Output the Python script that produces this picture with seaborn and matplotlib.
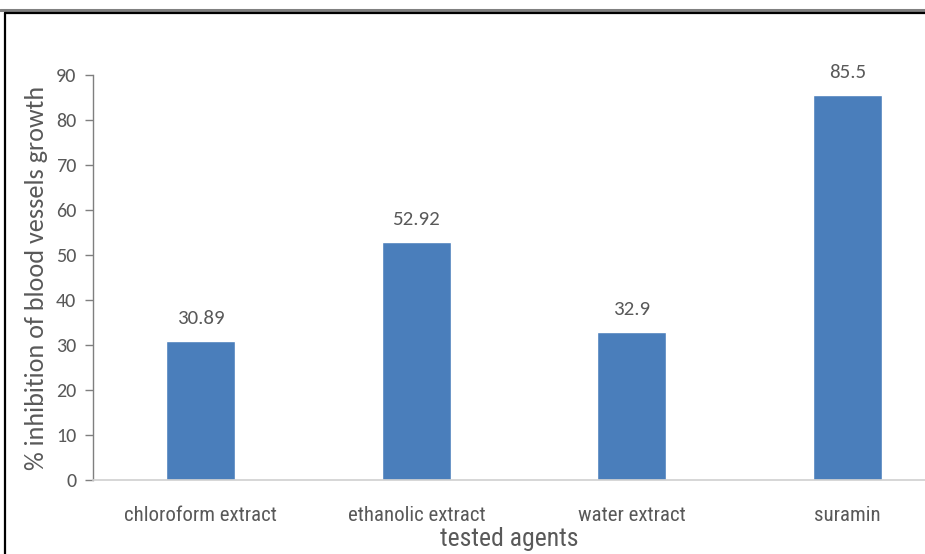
import matplotlib
matplotlib.use("Agg")
import matplotlib.pyplot as plt
from matplotlib.lines import Line2D
import seaborn as sns
import pandas as pd

agents = ["chloroform extract", "ethanolic extract", "water extract", "suramin"]
inhibition = [30.89, 52.92, 32.9, 85.5]
value_labels = ["30.89", "52.92", "32.9", "85.5"]
y_ticks = [0, 10, 20, 30, 40, 50, 60, 70, 80, 90]

df = pd.DataFrame({"agent": agents, "inhibition": inhibition})

sns.set_style("white")
plt.rcParams["font.family"] = ["Carlito", "DejaVu Sans"]
NARROW = ["Roboto Condensed", "Carlito", "DejaVu Sans"]

GREY = "#595959"
BLUE = "#4A7EBB"

fig = plt.figure(figsize=(9.25, 5.54), dpi=100)
W, H = 925, 554
ax = fig.add_axes([93 / W, 1 - 480 / H, (925 - 93) / W, (480 - 75) / H])

sns.barplot(data=df, x="agent", y="inhibition", color=BLUE, width=0.32,
            saturation=1, ax=ax)

ax.set_ylim(0, 90)
ax.set_xlim(-0.5, 3.36)
ax.set_yticks(y_ticks)
ax.set_yticklabels([str(t) for t in y_ticks], fontsize=14.5, color=GREY)
ax.tick_params(axis="y", which="major", direction="out", length=6, width=1,
               color="#7f7f7f", pad=6, left=True)
ax.tick_params(axis="x", length=0, pad=19)
for lbl in ax.get_xticklabels():
    lbl.set_fontfamily(NARROW)
    lbl.set_fontsize(15)
    lbl.set_color(GREY)

for side in ["top", "right"]:
    ax.spines[side].set_visible(False)
ax.spines["left"].set_color("#7f7f7f")
ax.spines["bottom"].set_color("#d0d0d0")
ax.spines["left"].set_linewidth(1)
ax.spines["bottom"].set_linewidth(1.2)

ax.set_xlabel("tested agents", fontsize=18.5, color=GREY, labelpad=1,
              fontfamily=NARROW)
ax.set_ylabel("% inhibition of blood vessels growth", fontsize=18.8, color=GREY,
              labelpad=6)

for i, (v, txt) in enumerate(zip(inhibition, value_labels)):
    ax.annotate(txt, (i, v), xytext=(0, 10), textcoords="offset points",
                ha="center", va="bottom", fontsize=15, color=GREY)

# page framing lines
fig.add_artist(Line2D([0, 1], [1 - 9.5 / H, 1 - 9.5 / H], transform=fig.transFigure,
                      color="#808080", lw=2.2))
fig.add_artist(Line2D([5 / W, 1], [1 - 12.5 / H, 1 - 12.5 / H], transform=fig.transFigure,
                      color="black", lw=1.6))
fig.add_artist(Line2D([5 / W, 5 / W], [0, 1 - 12.5 / H], transform=fig.transFigure,
                      color="black", lw=1.6))

fig.savefig("out.png", dpi=100)
